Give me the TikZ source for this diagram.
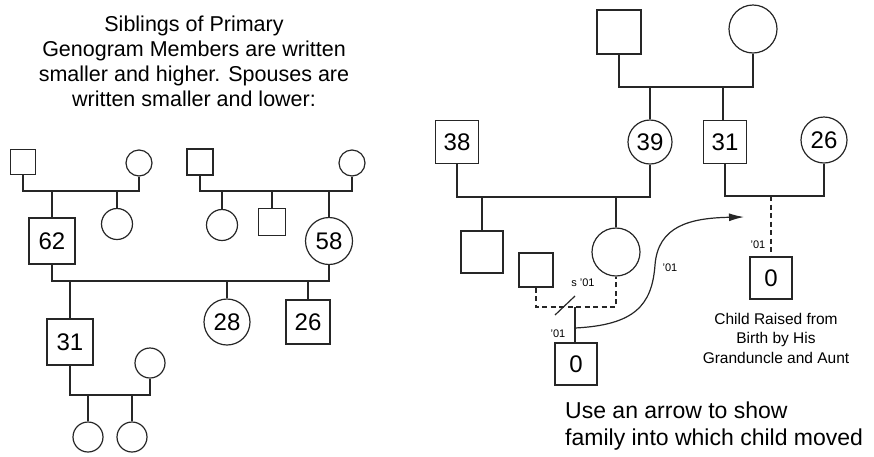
\documentclass[tikz,border=0pt]{standalone}
\usepackage{fontspec}
\setmainfont{Liberation Sans}
\usepackage{tikz}
\usetikzlibrary{arrows.meta,positioning}
\tikzset
{
    male/.style = {rectangle, draw=black!85, line width=1.2pt, inner sep=0pt, minimum size=#1, font=\fontsize{24}{24}\selectfont},
    male/.default = 44pt,
    female/.style = {circle, draw=black!85, line width=1.2pt, inner sep=0pt, minimum size=#1, font=\fontsize{24}{24}\selectfont},
    female/.default = 46pt,
    link/.style = {draw=black!85, line width=1.2pt},
    cutoff/.style = {link, dash pattern=on 5pt off 3.5pt},
    yearnote/.style = {font=\fontsize{11}{11}\selectfont, inner sep=0pt},
    note/.style = {align=center, inner sep=0pt}
}
\begin{document}
\begin{tikzpicture}[x=1pt, y=-1pt]
    \useasboundingbox (0,0) rectangle (874,456);
    % ------------------------------------------------ left: siblings and spouses
    \node [note, font=\fontsize{21.5}{25}\selectfont] (title) at (194,61)
        {Siblings of Primary\\Genogram Members are written\\smaller and higher. Spouses are\\written smaller and lower:};

    \node [male=25pt] (pgf) at (23,162) {};
    \node [female=26pt] (pgm) at (139,163) {};
    \node [male=46pt] (p62) at (52,241) {62};
    \node [female=31pt] (psis) at (117,224) {};
    \coordinate (pline) at (80,191);
    \draw [link] (pgf.south) |- (pline) -| (pgm.south);
    \draw [link] (p62.north) -- (p62.north |- pline);
    \draw [link] (psis.north) -- (psis.north |- pline);

    \node [male=26pt] (mgf) at (200,162) {};
    \node [female=26pt] (mgm) at (352,163) {};
    \node [female=31pt] (msis) at (222,225) {};
    \node [male=27pt] (mbro) at (272,222) {};
    \node [female=47pt] (m58) at (329,241) {58};
    \coordinate (mline) at (276,191);
    \draw [link] (mgf.south) |- (mline) -| (mgm.south);
    \draw [link] (msis.north) -- (msis.north |- mline);
    \draw [link] (mbro.north) -- (mbro.north |- mline);
    \draw [link] (m58.north) -- (m58.north |- mline);

    \node [male=46pt] (c31) at (70,342) {31};
    \node [female=46pt] (c28) at (227,322) {28};
    \node [male=44pt] (c26) at (308,322) {26};
    \coordinate (cline) at (190,281);
    \draw [link] (p62.south) |- (cline) -| (m58.south);
    \draw [link] (c31.north) -- (c31.north |- cline);
    \draw [link] (c28.north) -- (c28.north |- cline);
    \draw [link] (c26.north) -- (c26.north |- cline);

    \node [female=30pt] (wife) at (150,363) {};
    \node [female=30pt] (gd1) at (88,437) {};
    \node [female=30pt] (gd2) at (132,437) {};
    \coordinate (gline) at (110,395);
    \draw [link] (c31.south) |- (gline) -| (wife.south);
    \draw [link] (gd1.north) -- (gd1.north |- gline);
    \draw [link] (gd2.north) -- (gd2.north |- gline);

    % ------------------------------------------------ right: child who moved
    \node [male=44pt] (rgf) at (619,32) {};
    \node [female=48pt] (rgm) at (753,29) {};
    \node [male=43pt] (r38) at (457,142) {38};
    \node [female=44pt] (r39) at (650,142) {39};
    \node [male=43pt] (r31) at (725,142) {31};
    \node [female=46pt] (r26) at (824,140) {26};
    \coordinate (rline) at (690,87);
    \draw [link] (rgf.south) |- (rline) -| (rgm.south);
    \draw [link] (r39.north) -- (r39.north |- rline);
    \draw [link] ([xshift=-2pt]r31.north) -- ([xshift=-2pt]r31.north |- rline);

    \node [male=42pt] (rson) at (482,252) {};
    \node [female=48pt] (rdau) at (616,252) {};
    \coordinate (dline) at (550,197);
    \draw [link] (r38.south) |- (dline) -| (r39.south);
    \draw [link] (rson.north) -- (rson.north |- dline);
    \draw [link] (rdau.north) -- (rdau.north |- dline);

    \node [male=34pt] (rbf) at (536,270) {};
    \node [male=42pt] (baby) at (576,364) {0};
    \coordinate (bline) at (575,307);
    \draw [cutoff] (rbf.south) |- (bline) -| (rdau.south);
    \draw [link] (baby.north -| bline) -- (bline);
    \coordinate (split) at (565,306);
    \draw [link] ([shift={(-10,9)}]split) -- ([shift={(10,-10)}]split);
    \node [yearnote] (splitnote) at (583,283) {s '01};
    \node [yearnote] (birthnote) at (558,334) {'01};

    \coordinate (uline) at (771,196);
    \draw [link] (r31.south) |- (uline) -| (r26.south);
    \node [male=42pt] (moved) at (771,278) {0};
    \draw [cutoff] (uline) -- (moved.north);
    \node [yearnote] (movednote) at (758,245) {'01};
    \node [note, font=\fontsize{15.5}{19.5}\selectfont] (raised) at (776,338)
        {Child Raised from\\Birth by His\\Granduncle and Aunt};

    \coordinate (mvfrom) at (575,328);
    \coordinate (mvto) at (744,217);
    \draw [link, -{Latex[length=15pt,width=8pt]}] (mvfrom)
        .. controls (635,325) and (652,305) .. (655,265)
        .. controls (658,226) and (690,218) .. (mvto);
    \node [yearnote] (arrownote) at (670,268) {'01};

    \node [note, align=left, anchor=west, font=\fontsize{23}{27}\selectfont] (usenote) at (565,426)
        {Use an arrow to show\\family into which child moved};
\end{tikzpicture}
\end{document}
